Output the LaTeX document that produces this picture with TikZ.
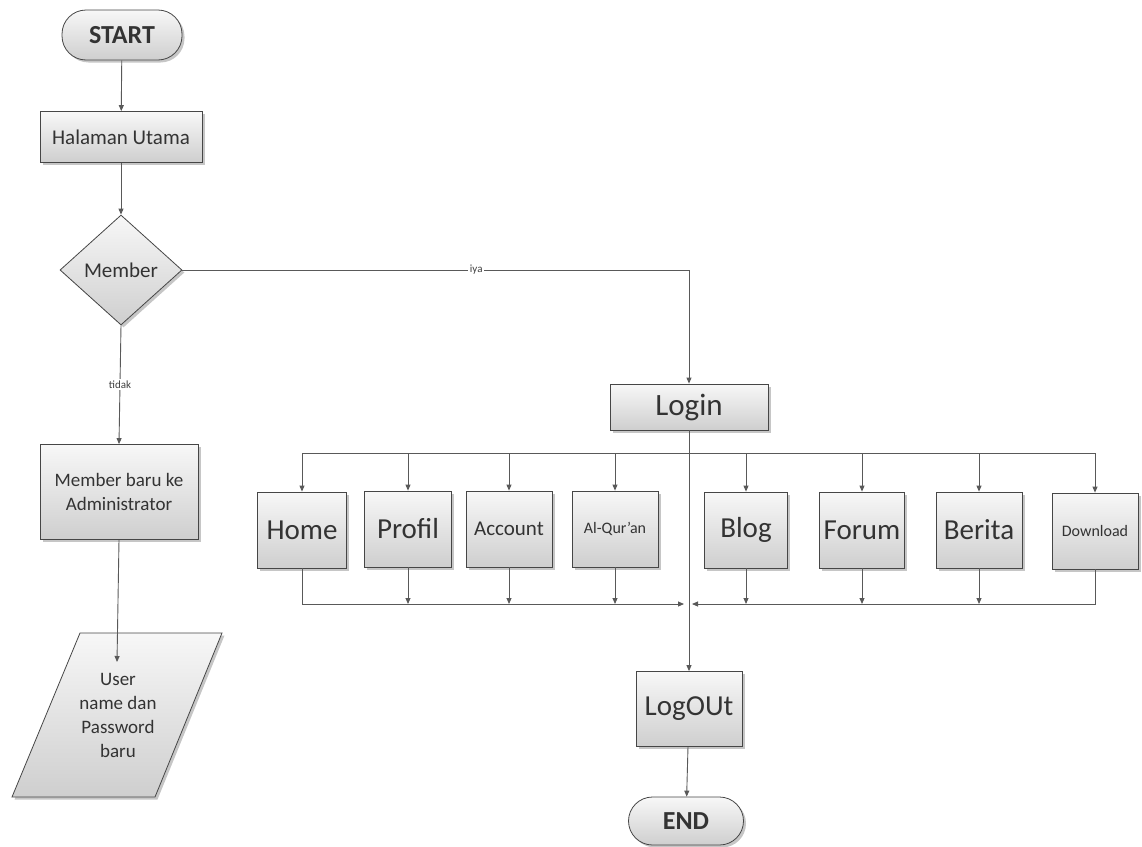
\documentclass[tikz,border=0pt]{standalone}
\usepackage{fontspec}
\setmainfont{Carlito}
\usetikzlibrary{shapes.geometric,shadows,arrows.meta}
\begin{document}
\begin{tikzpicture}[x=1pt,y=-1pt,
  box/.style={draw=gray!55!black, line width=0.8pt, top color=gray!6, bottom color=gray!38,
    drop shadow={shadow xshift=2.5pt, shadow yshift=-2.5pt, opacity=0.45},
    inner sep=0pt, text=black!80, align=center},
  term/.style={box, rounded corners=24pt, font=\fontsize{26}{28}\selectfont\bfseries},
  dec/.style={box, diamond, aspect=1.1},
  conn/.style={draw=black!65, line width=0.9pt},
  arr/.style={conn, -{Triangle[length=6pt,width=5pt]}},
  lbl/.style={fill=white, inner sep=1.5pt, font=\fontsize{11}{12}\selectfont, text=black!75},
  big/.style={font=\fontsize{29}{31}\selectfont},
  mid/.style={font=\fontsize{21}{23}\selectfont},
  sml/.style={font=\fontsize{16}{18}\selectfont}
]
\useasboundingbox (0,0) rectangle (1142,846);
% left column
\node[term, minimum width=120pt, minimum height=50pt] (start) at (122,35) {START};
\node[box, mid, minimum width=162pt, minimum height=51pt] (hal) at (121,137) {Halaman Utama};
\node[dec, mid, minimum width=122pt, minimum height=110pt] (mem) at (121,270) {Member};
\node[box, font=\fontsize{19}{24}\selectfont, minimum width=158pt, minimum height=95pt] (baru) at (119,492) {Member baru ke\\Administrator};
\path[box] (80,633) -- (222,633) -- (155,797) -- (12,797) -- cycle;
\node[align=center, text=black!80, font=\fontsize{19}{24}\selectfont] (para) at (118,715) {User\\name dan\\Password\\baru};
\coordinate (paraIn) at (117,662);
% right part
\node[box, font=\fontsize{31}{33}\selectfont, minimum width=158pt, minimum height=46pt] (login) at (689,407) {Login};
\coordinate (busT) at (688,453);
\coordinate (busB) at (688,604);
\node[box, big, minimum width=89pt, minimum height=76pt] (home) at (302,530) {Home};
\node[box, big, minimum width=87pt, minimum height=76pt] (profil) at (408,529) {Profil};
\node[box, mid, minimum width=86pt, minimum height=76pt] (account) at (509,529) {Account};
\node[box, sml, minimum width=86pt, minimum height=76pt] (quran) at (615,529) {Al-Qur'an};
\node[box, big, minimum width=83pt, minimum height=76pt] (blog) at (746,530) {Blog};
\node[box, big, minimum width=85pt, minimum height=76pt] (forum) at (862,530) {Forum};
\node[box, big, minimum width=86pt, minimum height=76pt] (berita) at (979,530) {Berita};
\node[box, sml, minimum width=86pt, minimum height=76pt] (download) at (1095,531) {Download};
\node[box, font=\fontsize{29}{31}\selectfont, minimum width=106pt, minimum height=75pt] (logout) at (689,709) {LogOUt};
\node[term, minimum width=115pt, minimum height=48pt] (end) at (686,821) {END};
% connectors
\draw[arr] (start) -- (hal);
\draw[arr] (hal) -- (mem);
\draw[arr] (mem.east) -- node[lbl, pos=0.58] {iya} (mem.east -| login) -- (login);
\draw[arr] (mem.south) -- node[lbl, pos=0.5] {tidak} (baru.north);
\draw[arr] (baru.south) -- (paraIn);
\draw[arr] (login.south) -- (logout.north);
\foreach \n in {home,profil,account,quran,blog,forum,berita,download}
  \draw[arr] (busT) -| (\n.north);
\foreach \n in {profil,account,quran,blog,forum,berita}
  \draw[arr] (\n.south) -- (\n.south |- busB);
\draw[arr] (home.south) |- ([xshift=-4pt]busB);
\draw[arr] (download.south) |- ([xshift=4pt]busB);
\draw[arr] (logout) -- (end);
\end{tikzpicture}
\end{document}
